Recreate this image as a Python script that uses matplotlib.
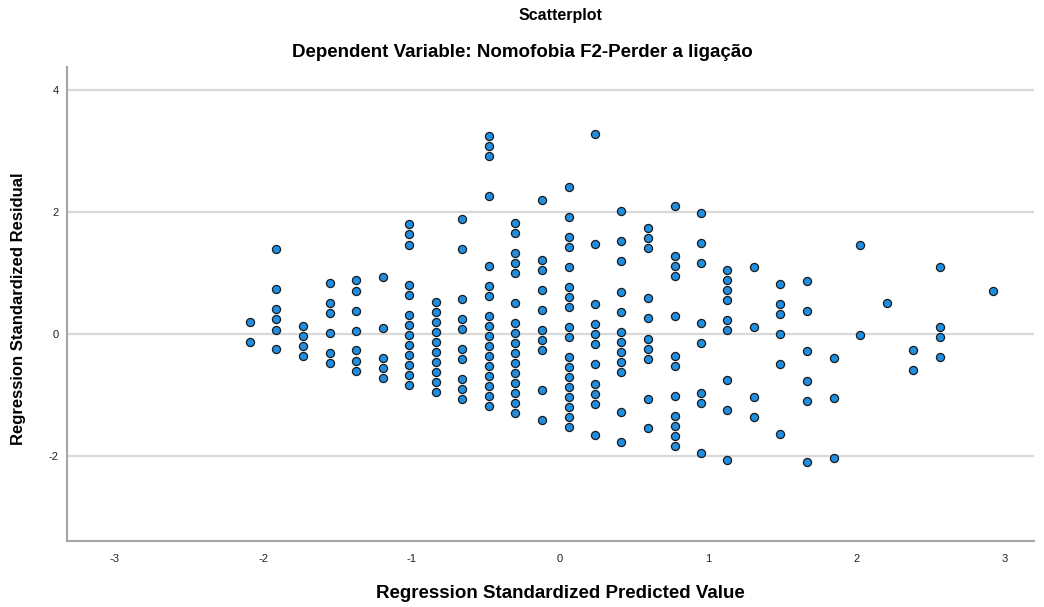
import matplotlib.pyplot as plt
import numpy as np

# Standardized predicted value of each column of points
predicted = [-2.086, -1.911, -1.732, -1.552, -1.375, -1.195, -1.015, -0.838,
             -0.661, -0.479, -0.300, -0.120, 0.059, 0.237, 0.414, 0.596,
             0.773, 0.953, 1.130, 1.308, 1.487, 1.667, 1.846, 2.024,
             2.203, 2.382, 2.562, 2.919]

residuals = [
    [0.197, -0.131],
    [1.393, 0.738, 0.410, 0.241, 0.070, -0.251],
    [0.136, -0.033, -0.197, -0.366],
    [0.831, 0.503, 0.339, 0.011, -0.311, -0.480],
    [0.880, 0.713, 0.385, 0.054, -0.267, -0.438, -0.602],
    [0.930, 0.103, -0.389, -0.552, -0.716],
    [1.798, 1.634, 1.464, 0.808, 0.643, 0.316, 0.152, -0.011, -0.175,
     -0.339, -0.503, -0.667, -0.836],
    [0.530, 0.366, 0.197, 0.033, -0.131, -0.295, -0.459, -0.623, -0.787, -0.951],
    [1.890, 1.398, 0.574, 0.251, 0.082, -0.246, -0.410, -0.738, -0.902, -1.066],
    [3.251, 3.087, 2.923, 2.262, 1.120, 0.792, 0.628, 0.300, 0.136, -0.028,
     -0.197, -0.361, -0.525, -0.689, -0.852, -1.016, -1.185],
    [1.820, 1.656, 1.328, 1.164, 0.995, 0.508, 0.180, 0.016, -0.148, -0.311,
     -0.475, -0.639, -0.803, -0.967, -1.131, -1.295],
    [2.197, 1.213, 1.049, 0.716, 0.393, 0.061, -0.103, -0.267, -0.918, -1.410],
    [2.410, 1.913, 1.590, 1.426, 1.098, 0.770, 0.607, 0.443, 0.110, -0.054,
     -0.382, -0.546, -0.710, -0.874, -1.038, -1.202, -1.366, -1.530],
    [3.279, 1.470, 0.492, 0.159, -0.005, -0.169, -0.497, -0.825, -0.989,
     -1.152, -1.651],
    [2.016, 1.520, 1.192, 0.693, 0.366, 0.038, -0.126, -0.290, -0.454,
     -0.618, -1.274, -1.766],
    [1.733, 1.569, 1.405, 0.582, 0.257, -0.077, -0.241, -0.405, -1.061, -1.546],
    [2.103, 1.284, 1.120, 0.956, 0.300, -0.356, -0.525, -1.016, -1.344,
     -1.508, -1.672, -1.836],
    [1.989, 1.497, 1.169, 0.185, -0.148, -0.962, -1.131, -1.951],
    [1.054, 0.885, 0.721, 0.557, 0.230, 0.066, -0.754, -1.241, -2.070],
    [1.103, 0.120, -1.033, -1.361],
    [0.825, 0.492, 0.328, 0.0, -0.492, -1.639],
    [0.869, 0.377, -0.279, -0.770, -1.098, -2.093],
    [-0.398, -1.054, -2.038],
    [1.454, -0.021],
    [0.516],
    [-0.257, -0.585],
    [1.103, 0.120, -0.044, -0.377],
    [0.700],
]

x_ticks = [-3, -2, -1, 0, 1, 2, 3]
y_ticks = [-2, 0, 2, 4]

plt.rcParams["font.family"] = ["Liberation Sans", "DejaVu Sans"]
plt.rcParams["axes.unicode_minus"] = False

x = np.concatenate([[p] * len(r) for p, r in zip(predicted, residuals)])
y = np.concatenate(residuals)

fig = plt.figure(figsize=(10.44, 6.07), dpi=100)
ax = fig.add_axes([0.0639, 0.108, 0.927, 0.782])

for v in y_ticks:
    ax.axhline(v, color="#d9d9d9", linewidth=1.6, zorder=0)

ax.scatter(x, y, s=34, color="#1f8fe3", edgecolor="#1a1a1a", linewidth=0.9, zorder=3)

ax.set_xlim(-3.325, 3.20)
ax.set_ylim(-3.40, 4.38)
ax.set_xticks(x_ticks)
ax.set_yticks(y_ticks)
ax.tick_params(axis="x", length=0, labelsize=8, colors="#222222", pad=9)
ax.tick_params(axis="y", length=0, labelsize=8, colors="#222222", pad=6)

for side in ["top", "right"]:
    ax.spines[side].set_visible(False)
for side in ["left", "bottom"]:
    ax.spines[side].set_color("#a6a6a6")
    ax.spines[side].set_linewidth(1.5)

ax.set_xlabel("Regression Standardized Predicted Value", fontsize=13.5,
              fontweight="bold", va="center")
ax.set_ylabel("Regression Standardized Residual", fontsize=12,
              fontweight="bold", va="center")
ax.xaxis.set_label_coords(0.51, -0.109)
ax.yaxis.set_label_coords(-0.05, 0.49)

fig.text(0.537, 0.975, "Scatterplot", ha="center", va="center",
         fontsize=11.5, fontweight="bold")
fig.text(0.5, 0.914, "Dependent Variable: Nomofobia F2-Perder a ligação",
         ha="center", va="center", fontsize=13.5, fontweight="bold")

fig.savefig("out.png", dpi=100)
